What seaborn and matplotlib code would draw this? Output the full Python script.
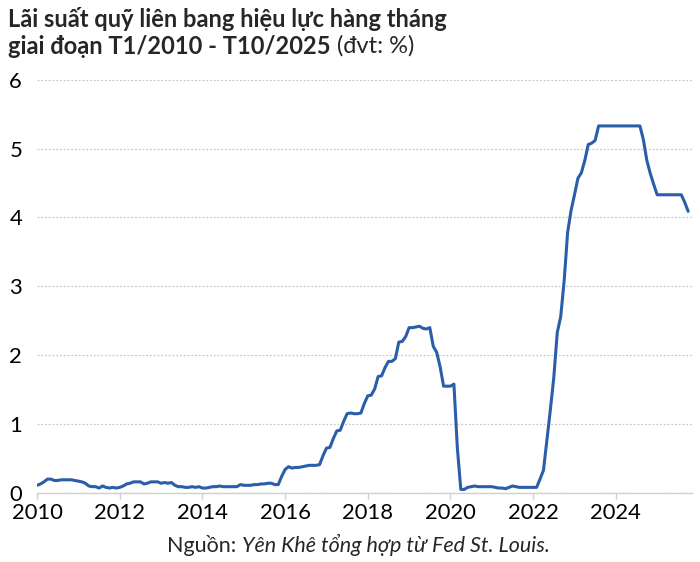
import numpy as np
import pandas as pd
import matplotlib
matplotlib.use("Agg")
import matplotlib.pyplot as plt
import seaborn as sns

# Monthly effective federal funds rate, Jan 2010 - Oct 2025 (%)
rate_2010 = [0.11, 0.13, 0.16, 0.20, 0.20, 0.18, 0.18, 0.19, 0.19, 0.19, 0.19, 0.18]
rate_2011 = [0.17, 0.16, 0.14, 0.10, 0.09, 0.09, 0.07, 0.10, 0.08, 0.07, 0.08, 0.07]
rate_2012 = [0.08, 0.10, 0.13, 0.14, 0.16, 0.16, 0.16, 0.13, 0.14, 0.16, 0.16, 0.16]
rate_2013 = [0.14, 0.15, 0.14, 0.15, 0.11, 0.09, 0.09, 0.08, 0.08, 0.09, 0.08, 0.09]
rate_2014 = [0.07, 0.07, 0.08, 0.09, 0.09, 0.10, 0.09, 0.09, 0.09, 0.09, 0.09, 0.12]
rate_2015 = [0.11, 0.11, 0.11, 0.12, 0.12, 0.13, 0.13, 0.14, 0.14, 0.12, 0.12, 0.24]
rate_2016 = [0.34, 0.38, 0.36, 0.37, 0.37, 0.38, 0.39, 0.40, 0.40, 0.40, 0.41, 0.54]
rate_2017 = [0.65, 0.66, 0.79, 0.90, 0.91, 1.04, 1.15, 1.16, 1.15, 1.15, 1.16, 1.30]
rate_2018 = [1.41, 1.42, 1.51, 1.69, 1.70, 1.82, 1.91, 1.91, 1.95, 2.19, 2.20, 2.27]
rate_2019 = [2.40, 2.40, 2.41, 2.42, 2.39, 2.38, 2.40, 2.13, 2.04, 1.83, 1.55, 1.55]
rate_2020 = [1.55, 1.58, 0.65, 0.05, 0.05, 0.08, 0.09, 0.10, 0.09, 0.09, 0.09, 0.09]
rate_2021 = [0.09, 0.08, 0.07, 0.07, 0.06, 0.08, 0.10, 0.09, 0.08, 0.08, 0.08, 0.08]
rate_2022 = [0.08, 0.08, 0.20, 0.33, 0.77, 1.21, 1.68, 2.33, 2.56, 3.08, 3.78, 4.10]
rate_2023 = [4.33, 4.57, 4.65, 4.83, 5.06, 5.08, 5.12, 5.33, 5.33, 5.33, 5.33, 5.33]
rate_2024 = [5.33, 5.33, 5.33, 5.33, 5.33, 5.33, 5.33, 5.33, 5.13, 4.83, 4.64, 4.48]
rate_2025 = [4.33, 4.33, 4.33, 4.33, 4.33, 4.33, 4.33, 4.33, 4.22, 4.09]

start_year = 2010
x_ticks = [2010, 2012, 2014, 2016, 2018, 2020, 2022, 2024]
y_ticks = [0, 1, 2, 3, 4, 5, 6]

title_line1 = "Lãi suất quỹ liên bang hiệu lực hàng tháng"
title_line2_bold = "giai đoạn T1/2010 - T10/2025"
title_line2_reg = " (đvt: %)"
source_reg = "Nguồn: "
source_ital = "Yên Khê tổng hợp từ Fed St. Louis."

values = (rate_2010 + rate_2011 + rate_2012 + rate_2013 + rate_2014 + rate_2015 +
          rate_2016 + rate_2017 + rate_2018 + rate_2019 + rate_2020 + rate_2021 +
          rate_2022 + rate_2023 + rate_2024 + rate_2025)
df = pd.DataFrame({"t": start_year + np.arange(len(values)) / 12.0, "rate": values})

sns.set_theme(style="white")
fam = ["Lato", "DejaVu Sans"]
plt.rcParams["font.family"] = fam

fig = plt.figure(figsize=(7.0, 5.62), dpi=100)
ax = fig.add_axes([0.053, 0.123, 0.936, 0.735])

sns.lineplot(data=df, x="t", y="rate", ax=ax, color="#2a5ea8", linewidth=2.2)

ax.set_xlim(2010, 2025.85)
ax.set_ylim(0, 6)
ax.set_xticks(x_ticks)
ax.set_xticklabels([str(v) for v in x_ticks])
ax.set_yticks(y_ticks)
ax.set_yticklabels([str(v) for v in y_ticks])
ax.set_xlabel("")
ax.set_ylabel("")
for s in ["top", "right", "left"]:
    ax.spines[s].set_visible(False)
ax.spines["bottom"].set_color("#d0d0d0")
ax.spines["bottom"].set_linewidth(1.0)
ax.tick_params(axis="x", which="major", length=4, color="#d0d0d0", width=1.0,
               labelsize=15.8, labelcolor="black", pad=3, direction="out", bottom=True)
ax.tick_params(axis="y", which="major", length=0, labelsize=15.8, labelcolor="black", pad=20)
for lab in ax.get_yticklabels():
    lab.set_horizontalalignment("left")
ax.yaxis.grid(True, color="#c8c8c8", linestyle=(0, (1.5, 1.5)), linewidth=0.9)
ax.xaxis.grid(False)
ax.set_axisbelow(True)

# Titles
fig.text(0.012, 0.966, title_line1, fontsize=17, fontweight="bold", ha="left", va="center", family=fam)
t2 = fig.text(0.012, 0.918, title_line2_bold, fontsize=17, fontweight="bold", ha="left", va="center", family=fam)
fig.canvas.draw()
r = fig.canvas.get_renderer()
bb = t2.get_window_extent(r)
x_next = bb.x1 / fig.bbox.width
fig.text(x_next, 0.918, title_line2_reg, fontsize=17, ha="left", va="center", family=fam)

# Source
s1 = fig.text(0, 0.030, source_reg, fontsize=15.5, ha="left", va="center", family=fam)
s2 = fig.text(0, 0.030, source_ital, fontsize=15.5, style="italic", ha="left", va="center", family=fam)
fig.canvas.draw()
w1 = s1.get_window_extent(r).width / fig.bbox.width
w2 = s2.get_window_extent(r).width / fig.bbox.width
center = 0.512
x0 = center - (w1 + w2) / 2
s1.set_x(x0)
s2.set_x(x0 + w1)

fig.savefig("out.png", dpi=100)
